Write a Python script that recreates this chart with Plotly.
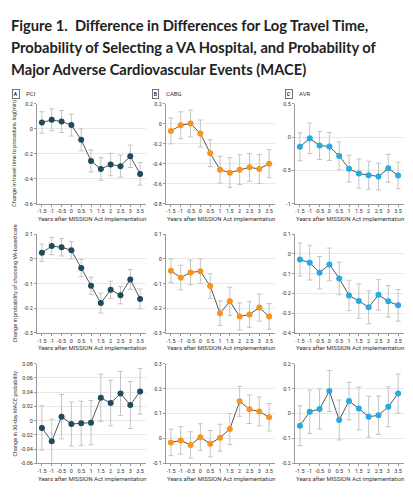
import plotly.graph_objects as go

# years relative to implementation
years = [-1.5, -1, -0.5, 0, 0.5, 1, 1.5, 2, 2.5, 3, 3.5]
year_labels = ["-1.5", "-1", "-0.5", "0", "0.5", "1", "1.5", "2", "2.5", "3", "3.5"]

# row 1: log travel time
travel_pci = [0.05, 0.071, 0.058, 0.029, -0.089, -0.258, -0.323, -0.287, -0.300, -0.221, -0.362]
travel_pci_err = [0.086, 0.088, 0.088, 0.088, 0.088, 0.088, 0.09, 0.09, 0.088, 0.09, 0.09]
travel_cabg = [-0.072, -0.016, 0.003, -0.098, -0.296, -0.460, -0.490, -0.460, -0.437, -0.453, -0.400]
travel_cabg_err = [0.13, 0.135, 0.135, 0.135, 0.135, 0.135, 0.15, 0.15, 0.14, 0.145, 0.14]
travel_avr = [-0.147, -0.020, -0.127, -0.142, -0.284, -0.475, -0.549, -0.574, -0.593, -0.470, -0.578]
travel_avr_err = [0.21, 0.23, 0.21, 0.21, 0.21, 0.2, 0.22, 0.21, 0.2, 0.21, 0.2]

# row 2: probability of choosing VA-based care
va_pci = [0.025, 0.052, 0.047, 0.035, -0.037, -0.109, -0.179, -0.125, -0.147, -0.083, -0.162]
va_pci_err = [0.035, 0.035, 0.035, 0.035, 0.035, 0.035, 0.04, 0.035, 0.035, 0.04, 0.04]
va_cabg = [-0.048, -0.076, -0.055, -0.050, -0.110, -0.220, -0.172, -0.233, -0.225, -0.197, -0.233]
va_cabg_err = [0.048, 0.05, 0.05, 0.05, 0.05, 0.05, 0.057, 0.055, 0.052, 0.055, 0.052]
va_avr = [-0.028, -0.044, -0.095, -0.053, -0.124, -0.210, -0.238, -0.270, -0.207, -0.240, -0.260]
va_avr_err = [0.083, 0.088, 0.082, 0.083, 0.082, 0.077, 0.087, 0.083, 0.077, 0.08, 0.08]

# row 3: 30-day MACE probability
mace_pci = [-0.0102, -0.029, 0.0056, -0.0047, -0.0037, -0.0028, 0.032, 0.0247, 0.038, 0.022, 0.041]
mace_pci_err = [0.031, 0.031, 0.031, 0.031, 0.031, 0.031, 0.033, 0.032, 0.031, 0.033, 0.032]
mace_cabg = [-0.016, -0.008, -0.026, 0.005, -0.021, 0.003, 0.038, 0.149, 0.117, 0.108, 0.085]
mace_cabg_err = [0.053, 0.055, 0.053, 0.054, 0.053, 0.054, 0.062, 0.06, 0.057, 0.058, 0.055]
mace_avr = [-0.049, 0.007, 0.018, 0.090, -0.026, 0.050, 0.020, -0.013, -0.007, 0.027, 0.080]
mace_avr_err = [0.08, 0.087, 0.08, 0.082, 0.08, 0.075, 0.086, 0.082, 0.077, 0.08, 0.078]

panel_names = [("A", "PCI"), ("B", "CABG"), ("C", "AVR")]
ytitles = [
    "Change in travel time to procedure, log(min)",
    "Change in probability of choosing VA-based care",
    "Change in 30-day MACE probability",
]
yticks = [
    [[-0.6, -0.4, -0.2, 0, 0.2], [-0.8, -0.6, -0.4, -0.2, 0, 0.2], [-1, -0.5, 0, 0.5]],
    [[-0.3, -0.2, -0.1, 0, 0.1], [-0.3, -0.2, -0.1, 0, 0.1], [-0.4, -0.3, -0.2, -0.1, 0, 0.1]],
    [[-0.06, -0.04, -0.02, 0, 0.02, 0.04, 0.06, 0.08], [-0.1, 0, 0.1, 0.2, 0.3], [-0.2, -0.1, 0, 0.1, 0.2]],
]
data = [
    [(travel_pci, travel_pci_err), (travel_cabg, travel_cabg_err), (travel_avr, travel_avr_err)],
    [(va_pci, va_pci_err), (va_cabg, va_cabg_err), (va_avr, va_avr_err)],
    [(mace_pci, mace_pci_err), (mace_cabg, mace_cabg_err), (mace_avr, mace_avr_err)],
]
colors = ["#1d4b5a", "#f7941d", "#27aae1"]

W, H = 413, 500
col_px = [(37, 146), (166, 275), (295, 404)]
row_px = [(102, 203), (234, 334), (365, 466)]

fig = go.Figure()
annotations = []
n = 0
for r in range(3):
    for c in range(3):
        n += 1
        xa = "x" if n == 1 else "x%d" % n
        ya = "y" if n == 1 else "y%d" % n
        vals, err = data[r][c]
        fig.add_trace(go.Scatter(
            x=years, y=vals, xaxis=xa, yaxis=ya, mode="lines+markers",
            line=dict(color="#555555", width=1),
            marker=dict(color=colors[c], size=6, symbol="circle"),
            error_y=dict(type="data", array=err, visible=True, color="#c4c4c4",
                         thickness=1, width=2.5),
            cliponaxis=False, showlegend=False, hoverinfo="skip",
        ))
        x0, x1 = col_px[c]
        y0, y1 = row_px[r]
        tv = yticks[r][c]
        fig.layout["xaxis" if n == 1 else "xaxis%d" % n] = dict(
            domain=[x0 / W, x1 / W], anchor=ya, range=[-1.75, 3.8],
            tickvals=years, ticktext=year_labels, ticks="outside", ticklen=2,
            tickcolor="#999999", showline=True, linecolor="#999999", linewidth=1,
            showgrid=False, zeroline=False, tickfont=dict(size=5.5, color="#333333"),
            fixedrange=True,
        )
        fig.layout["yaxis" if n == 1 else "yaxis%d" % n] = dict(
            domain=[1 - y1 / H, 1 - y0 / H], anchor=xa, range=[tv[0], tv[-1]],
            tickvals=tv, ticktext=["%g" % v for v in tv], ticks="outside", ticklen=2,
            tickcolor="#999999", showline=True, linecolor="#999999", linewidth=1,
            showgrid=True, gridcolor="#e8e8e8", gridwidth=1, zeroline=False,
            tickfont=dict(size=5.5, color="#333333"), fixedrange=True,
        )
        # x-axis title
        annotations.append(dict(
            text="Years after MISSION Act implementation", xref="paper", yref="paper",
            x=(x0 + x1) / 2 / W, y=1 - (y1 + 15) / H, xanchor="center", yanchor="middle",
            showarrow=False, font=dict(size=6, color="#333333"),
        ))
    annotations.append(dict(
        text=ytitles[r], xref="paper", yref="paper", textangle=-90,
        x=15 / W, y=1 - (row_px[r][0] + row_px[r][1]) / 2 / H, xanchor="center",
        yanchor="middle", showarrow=False, font=dict(size=5.5, color="#333333"),
    ))

# panel letters
label_x = [12, 152, 285]
for c, (letter, name) in enumerate(panel_names):
    annotations.append(dict(
        text="<b>%s</b>" % letter, xref="paper", yref="paper", x=label_x[c] / W,
        y=1 - 92 / H, xanchor="left", yanchor="middle", showarrow=False,
        font=dict(size=5, color="#333333"), bordercolor="#555555", borderwidth=0.8,
        borderpad=1, bgcolor="white",
    ))
    annotations.append(dict(
        text=name, xref="paper", yref="paper", x=(label_x[c] + 12) / W,
        y=1 - 92 / H, xanchor="left", yanchor="middle", showarrow=False,
        font=dict(size=6, color="#333333"),
    ))

title_lines = [
    "Figure 1.  Difference in Differences for Log Travel Time,",
    "Probability of Selecting a VA Hospital, and Probability of",
    "Major Adverse Cardiovascular Events (MACE)",
]
for i, line in enumerate(title_lines):
    annotations.append(dict(
        text="<b>%s</b>" % line, xref="paper", yref="paper", x=9 / W,
        y=1 - (22 + 22.5 * i) / H, xanchor="left", yanchor="middle",
        showarrow=False, font=dict(size=14.7, color="#222222", family="Lato"),
    ))

fig.update_layout(
    width=W, height=H, margin=dict(l=0, r=0, t=0, b=0),
    paper_bgcolor="white", plot_bgcolor="white",
    font=dict(family="Liberation Sans Narrow, Roboto, sans-serif", color="#333333"),
    annotations=annotations,
)

# page has a default body margin; drop it so the figure sits at the window corner
fig.write_html("out.html", config={"displayModeBar": False},
               post_script="document.body.style.margin='0';")
